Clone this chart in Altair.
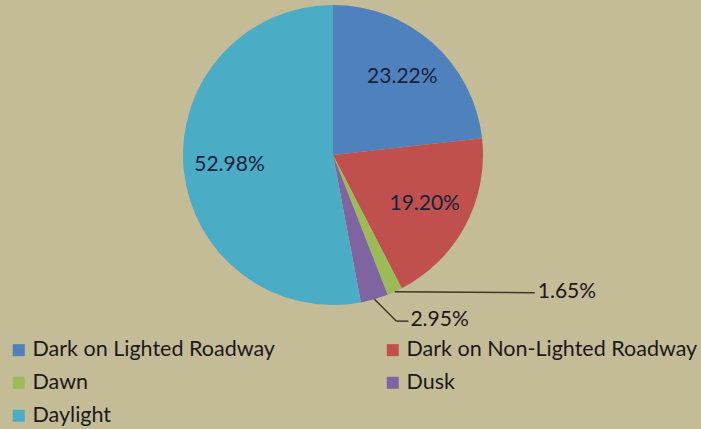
import math
import altair as alt
import pandas as pd

categories = ["Dark on Lighted Roadway", "Dark on Non-Lighted Roadway", "Dawn", "Dusk", "Daylight"]
values = [23.22, 19.20, 1.65, 2.95, 52.98]
labels = ["23.22%", "19.20%", "1.65%", "2.95%", "52.98%"]
colors = ["#4F81BD", "#C0504D", "#9BBB59", "#8064A2", "#4BACC6"]
inside = [True, True, False, False, True]

CX, CY, R = 333, 155, 150
FONT = "Lato"

df = pd.DataFrame({
    "category": categories,
    "value": values,
    "order": list(range(len(categories))),
    "inner": [l if i else "" for l, i in zip(labels, inside)],
})

# anchors for outside labels computed from the data angles
total = sum(values)
cum = 0.0
mids = []
for v in values:
    mids.append((cum + v / 2) / total * 2 * math.pi)
    cum += v

def anchor(i):
    a = mids[i]
    return CX + R * math.sin(a), CY - R * math.cos(a)

dawn = anchor(2)
dusk = anchor(3)
lines = pd.DataFrame([
    {"x": dawn[0], "y": dawn[1], "x2": dawn[0] + 140, "y2": dawn[1] + 1},
    {"x": dusk[0], "y": dusk[1], "x2": dusk[0] + 22, "y2": dusk[1] + 22},
    {"x": dusk[0] + 22, "y": dusk[1] + 22, "x2": dusk[0] + 34, "y2": dusk[1] + 22},
])
outer = pd.DataFrame([
    {"x": dawn[0] + 143, "y": dawn[1], "t": labels[2]},
    {"x": dusk[0] + 36, "y": dusk[1] + 21, "t": labels[3]},
])

color = alt.Color(
    "category:N",
    scale=alt.Scale(domain=categories, range=colors),
    legend=alt.Legend(
        title=None, orient="none", legendX=8, legendY=339, columns=2,
        direction="horizontal", labelLimit=0,
        columnPadding=107, rowPadding=10, symbolType="square", symbolSize=144,
        symbolStrokeWidth=0, labelFont=FONT, labelFontSize=21.5, labelColor="#1a1a1a",
        symbolOffset=0, labelOffset=3,
    ),
)

base = alt.Chart(df).encode(
    theta=alt.Theta("value:Q", stack=True),
    order=alt.Order("order:Q"),
    x=alt.value(CX), y=alt.value(CY),
)

pie = base.mark_arc(radius=R, stroke=None).encode(color=color)
inner_text = base.mark_text(radius=104, font=FONT, fontSize=21, color="#15233a").encode(text="inner:N")

rules = alt.Chart(lines).mark_rule(color="#3b3a2a", strokeWidth=1.5).encode(
    x=alt.X("x:Q", scale=None), y=alt.Y("y:Q", scale=None),
    x2="x2:Q", y2="y2:Q",
)
outer_text = alt.Chart(outer).mark_text(align="left", baseline="middle", font=FONT, fontSize=21, color="#1a1a1a").encode(
    x=alt.X("x:Q", scale=None), y=alt.Y("y:Q", scale=None), text="t:N",
)

chart = alt.layer(pie, inner_text, rules, outer_text).properties(
    width=701, height=429, padding=0, autosize=alt.AutoSizeParams(type="none"),
    background="#C4BC97",
).configure_view(stroke=None)

chart.save("out.html", embed_options={"renderer": "svg", "actions": False})
